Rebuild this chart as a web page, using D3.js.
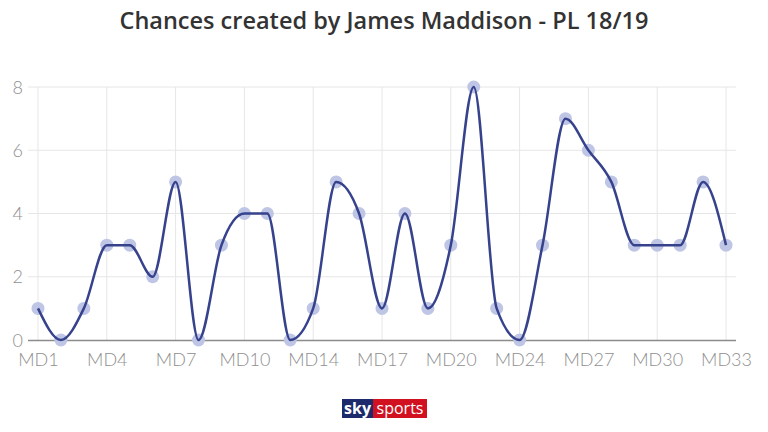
<!DOCTYPE html>
<html><head><meta charset="utf-8">
<script src="https://cdn.jsdelivr.net/npm/d3@7"></script>
<style>body{margin:0;background:#fff;}svg{display:block;}</style>
</head><body>
<svg id="c" width="768" height="432"></svg>
<script>
const categories = ["MD1","MD2","MD3","MD4","MD5","MD6","MD7","MD8","MD9","MD10","MD11","MD12","MD14","MD15","MD16","MD17","MD18","MD19","MD20","MD21","MD22","MD24","MD25","MD26","MD27","MD28","MD29","MD30","MD31","MD32","MD33"];
const chances = [1,0,1,3,3,2,5,0,3,4,4,0,1,5,4,1,4,1,3,8,1,0,3,7,6,5,3,3,3,5,3];
const yTicks = [0,2,4,6,8];
const title = "Chances created by James Maddison - PL 18/19";

const svg = d3.select("#c");
const x = d3.scalePoint().domain(categories).range([28,736]).padding(0.436);
const y = d3.scaleLinear().domain([0,8]).range([340,87]);
const labelCats = categories.filter((d,i)=>i%3===0);

svg.append("text").attr("x",384).attr("y",29).attr("text-anchor","middle")
  .attr("font-family","Open Sans").attr("font-weight",600).attr("font-size",23.5)
  .attr("fill","#333").text(title);

const yg = svg.append("g");
yg.selectAll("line").data(yTicks.filter(d=>d>0)).join("line")
  .attr("x1",28).attr("x2",736).attr("y1",d=>y(d)).attr("y2",d=>y(d))
  .attr("stroke","#e6e6e6").attr("stroke-width",1);
svg.append("g").selectAll("line").data(labelCats).join("line")
  .attr("x1",d=>x(d)).attr("x2",d=>x(d)).attr("y1",87).attr("y2",340)
  .attr("stroke","#e6e6e6").attr("stroke-width",1);

const yAxis = d3.axisLeft(y).tickValues(yTicks).tickSize(0).tickPadding(0);
const ya = svg.append("g").attr("transform","translate(23,0)").call(yAxis);
ya.select(".domain").remove();
ya.selectAll("text").attr("font-family","Lato").attr("font-weight",300).attr("font-size",18).attr("fill","#8f8f8f").attr("dy","0.34em");

const xAxis = d3.axisBottom(x).tickValues(labelCats).tickSize(0).tickPadding(13);
const xa = svg.append("g").attr("transform","translate(0,340)").call(xAxis);
xa.select(".domain").remove();
xa.selectAll("text").attr("font-family","Lato").attr("font-weight",300).attr("font-size",18).attr("fill","#8f8f8f");
svg.append("line").attr("x1",28).attr("x2",736).attr("y1",340.5).attr("y2",340.5)
  .attr("stroke","#8c8c8c").attr("stroke-width",1.5);

svg.append("g").selectAll("circle").data(chances).join("circle")
  .attr("cx",(d,i)=>x(categories[i])).attr("cy",d=>y(d)).attr("r",6.5)
  .attr("fill","#bfc5e5");

const line = d3.line().x((d,i)=>x(categories[i])).y(d=>y(d)).curve(d3.curveMonotoneX);
svg.append("path").datum(chances).attr("d",line).attr("fill","none")
  .attr("stroke","#36428c").attr("stroke-width",2.5);

const lg = svg.append("g");
lg.append("rect").attr("x",342).attr("y",399).attr("width",31).attr("height",19).attr("fill","#1d2a6b");
lg.append("rect").attr("x",373).attr("y",399).attr("width",54).attr("height",19).attr("fill","#d1111f");
lg.append("text").attr("x",357.5).attr("y",414).attr("text-anchor","middle").attr("font-family","Open Sans")
  .attr("font-weight",700).attr("font-size",16).attr("fill","#fff").text("sky");
lg.append("text").attr("x",400).attr("y",414).attr("text-anchor","middle").attr("font-family","Open Sans")
  .attr("font-weight",400).attr("font-size",16).attr("fill","#fff").text("sports");
</script>
</body></html>
